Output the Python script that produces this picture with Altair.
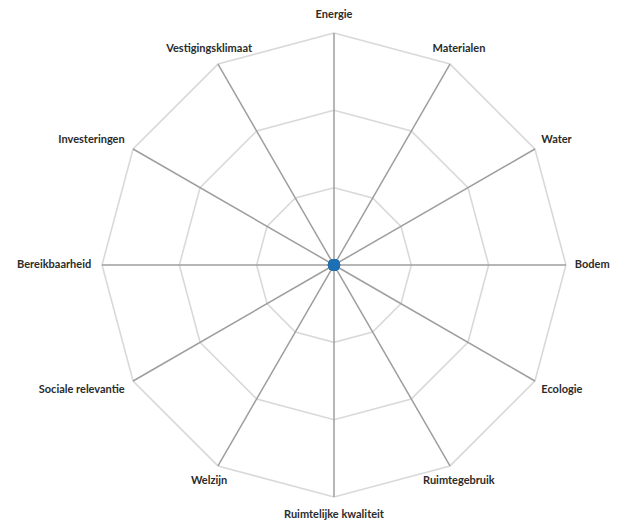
import altair as alt
import pandas as pd

categories = ["Energie", "Materialen", "Water", "Bodem", "Ecologie", "Ruimtegebruik",
              "Ruimtelijke kwaliteit", "Welzijn", "Sociale relevantie", "Bereikbaarheid",
              "Investeringen", "Vestigingsklimaat"]
values = [0, 0, 0, 0, 0, 0, 0, 0, 0, 0, 0, 0]
ring_levels = [1, 2, 3]
max_level = 3
label_radius = 3.23

n = len(categories)
rings = pd.DataFrame([{"level": lv, "i": i} for lv in ring_levels for i in range(n + 1)])
spokes = pd.DataFrame({"i": list(range(n)), "level": [max_level] * n})
labels = pd.DataFrame({"category": categories, "i": list(range(n)), "r": [label_radius] * n})
vals = pd.DataFrame({"category": categories, "i": list(range(n)), "value": values})

W, H = 603, 514
u = 77.33
xs = alt.Scale(domain=[-326 / u, (W - 326) / u], nice=False, zero=False)
ys = alt.Scale(domain=[-(H - 257) / u, 257 / u], nice=False, zero=False)
ang = "datum.i*PI/6"

ring_chart = alt.Chart(rings).transform_calculate(
    x=f"datum.level*sin({ang})", y=f"datum.level*cos({ang})"
).mark_line(color="#d9d9d9", strokeWidth=1.6).encode(
    x=alt.X("x:Q", scale=xs, axis=None),
    y=alt.Y("y:Q", scale=ys, axis=None),
    detail="level:N",
    order="i:Q",
)

spoke_chart = alt.Chart(spokes).transform_calculate(
    x=f"datum.level*sin({ang})", y=f"datum.level*cos({ang})", x0="0", y0="0"
).mark_rule(color="#9e9e9e", strokeWidth=1.5).encode(
    x=alt.X("x0:Q", scale=xs, axis=None),
    y=alt.Y("y0:Q", scale=ys, axis=None),
    x2="x:Q",
    y2="y:Q",
)

def label_layer(filt, align, dx):
    return alt.Chart(labels).transform_calculate(
        x=f"datum.r*sin({ang})", y=f"datum.r*cos({ang})", s=f"sin({ang})"
    ).transform_filter(filt).mark_text(
        align=align, baseline="middle", dx=dx, font="Lato", fontWeight="bold",
        fontSize=11, color="#2b2b2b"
    ).encode(
        x=alt.X("x:Q", scale=xs, axis=None),
        y=alt.Y("y:Q", scale=ys, axis=None),
        text="category:N",
    )

lab_center = label_layer("abs(datum.s) < 0.7", "center", 0)
lab_left = label_layer("datum.s >= 0.7", "left", -9)
lab_right = label_layer("datum.s <= -0.7", "right", 7)

point_chart = alt.Chart(vals).transform_calculate(
    x=f"datum.value*sin({ang})", y=f"datum.value*cos({ang})"
).mark_point(filled=True, color="#1f6fb4", size=150, opacity=1).encode(
    x=alt.X("x:Q", scale=xs, axis=None),
    y=alt.Y("y:Q", scale=ys, axis=None),
)

chart = alt.layer(ring_chart, spoke_chart, lab_center, lab_left, lab_right, point_chart).properties(
    width=W, height=H, padding=0, autosize=alt.AutoSizeParams(type="none")
).configure_view(stroke=None)

chart.save("out.html", embed_options={"renderer": "svg", "actions": False})
